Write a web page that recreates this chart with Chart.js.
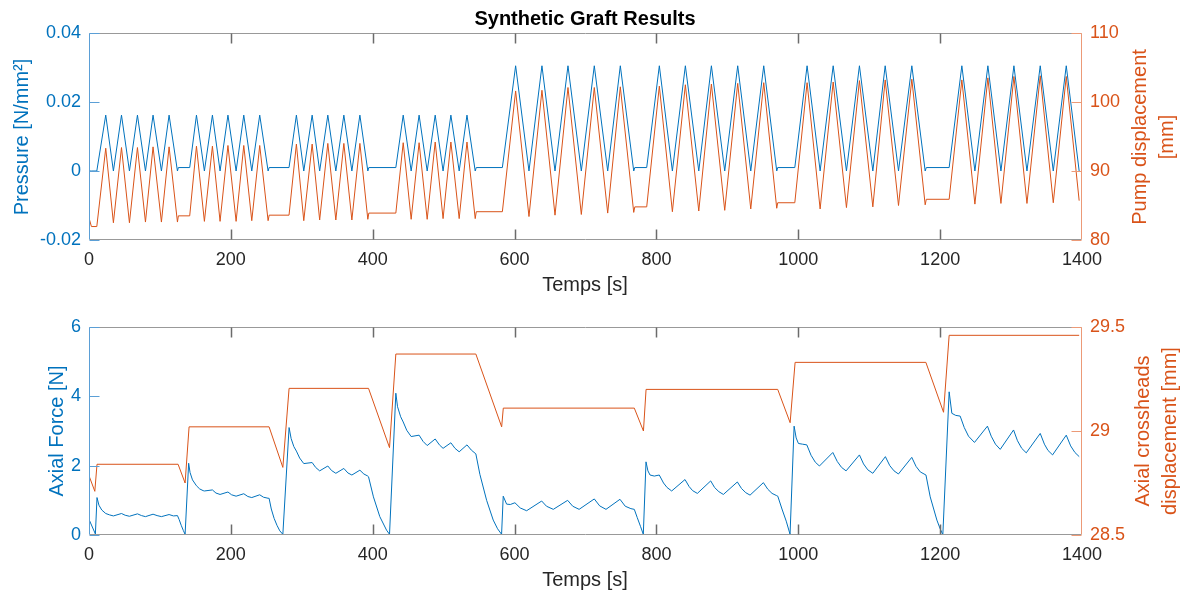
<!DOCTYPE html>
<html>
<head>
<meta charset="utf-8">
<script src="https://cdn.jsdelivr.net/npm/chart.js@4.4.0/dist/chart.umd.min.js"></script>
<style>
  html, body { margin: 0; padding: 0; background: #fff; }
  #wrap { position: relative; width: 1187px; height: 593px; }
  canvas { position: absolute; left: 0; }
</style>
</head>
<body>
<div id="wrap">
  <canvas id="chart-top" width="1187" height="297" style="top:0"></canvas>
  <canvas id="chart-bottom" width="1187" height="296" style="top:297px"></canvas>
</div>
<script>
// --- top panel: pressure (left) and pump displacement (right), shared time base [s]
const topTime = [
  0, 3.4, 11, 23.6, 34.4, 45.8, 57, 68.3, 79.6, 90.3, 102.1, 112.9, 124.7, 126, 142,
  151.5, 162.7, 174, 184.8, 195.9, 207.4, 218.2, 229.5, 240.7, 252.5, 254, 282,
  292.4, 302.8, 314.6, 325.2, 336.7, 348, 359.3, 370.6, 381.9, 393.1, 394.5, 432.6,
  443, 454.2, 465.4, 476.8, 488.1, 499.2, 510.2, 521.9, 532.9, 544.5, 546, 582.8,
  601.5, 620.3, 638.6, 657, 675.3, 694.1, 712.4, 731.3, 749.1, 768, 769.5, 786.3,
  804.1, 822.5, 840.8, 859.7, 877.5, 896.3, 914.6, 933, 951.3, 969.6, 971, 995.1,
  1012.4, 1030.8, 1049.2, 1067.9, 1086.2, 1105.1, 1122.5, 1141.3, 1160.1, 1178.9, 1180.5, 1212.7,
  1230.6, 1249, 1267.3, 1285.7, 1304, 1322.4, 1341.1, 1359.5, 1377.8, 1396
];
const pressure = [
  0, 0, 0, 0.0162, 0, 0.0162, 0, 0.0162, 0, 0.0162, 0, 0.0162, 0, 0.001, 0.001,
  0.0162, 0, 0.0162, 0, 0.0162, 0, 0.0162, 0, 0.0162, 0, 0.001, 0.001,
  0.0162, 0, 0.0162, 0, 0.0162, 0, 0.0162, 0, 0.0162, 0, 0.001, 0.001,
  0.0162, 0, 0.0162, 0, 0.0162, 0, 0.0162, 0, 0.0162, 0, 0.001, 0.001,
  0.0305, 0, 0.0305, 0, 0.0305, 0, 0.0305, 0, 0.0305, 0, 0.001, 0.001,
  0.0305, 0, 0.0305, 0, 0.0305, 0, 0.0305, 0, 0.0305, 0, 0.001, 0.001,
  0.0305, 0, 0.0305, 0, 0.0305, 0, 0.0305, 0, 0.0305, 0, 0.001, 0.001,
  0.0305, 0, 0.0305, 0, 0.0305, 0, 0.0305, 0, 0.0305, 0
];
const pumpDisp = [
  83.2, 81.95, 81.95, 93.3, 82.5, 93.4, 82.5, 93.4, 82.6, 93.5, 82.6, 93.5, 82.6, 83.5, 83.5,
  93.6, 82.7, 93.6, 82.7, 93.7, 82.7, 93.7, 82.8, 93.7, 82.8, 83.6, 83.6,
  93.9, 82.8, 93.9, 82.9, 94.0, 82.9, 94.0, 82.9, 94.0, 83.0, 83.9, 83.9,
  94.1, 83.0, 94.1, 83.0, 94.2, 83.1, 94.2, 83.1, 94.2, 83.1, 84.1, 84.1,
  101.6, 83.4, 101.7, 83.6, 102.1, 83.7, 102.1, 83.9, 102.2, 84.0, 84.8, 84.8,
  102.3, 84.1, 102.5, 84.2, 102.6, 84.3, 102.7, 84.5, 102.8, 84.6, 85.4, 85.4,
  102.8, 84.5, 102.9, 84.7, 103.1, 84.8, 103.2, 85.0, 103.3, 85.1, 85.9, 85.9,
  103.2, 85.2, 103.5, 85.3, 103.7, 85.3, 103.8, 85.4, 103.7, 85.7
];

// --- bottom panel: axial force (left)
const forceTime = [
  0, 9, 11.3, 14, 18, 23.6, 29, 34.4, 45.8, 51, 57, 68.3, 74, 79.6, 90.3, 96, 102.1, 112.9, 119, 124.7,
  127, 130, 133, 135.5,
  140.5, 142.5, 145.9, 151.5, 156, 160.9, 162.7, 174, 179, 184.8, 195.9, 201, 207.4, 218.2, 224, 229.5,
  240.7, 246, 252.5, 253.9, 257, 261, 265, 269, 273.3,
  282.1, 285, 288.8, 292.4, 297, 302.8, 314.6, 319.5, 325.2, 336.7, 342, 348, 359.3, 365, 370.6,
  381.9, 387.5, 393.1, 394.1, 401, 410, 419.5, 423.7,
  432.6, 435, 439.4, 443, 448, 454.2, 465.4, 471, 476.8, 488.1, 494, 499.2, 510.2, 516, 521.9,
  532.9, 539, 545.4, 551.1, 560.6, 569.9, 576, 581.7,
  584, 588.8, 594, 600.5, 608, 617, 638.2, 645, 654.6, 674.8, 682, 691, 712.4, 720, 728.9,
  748.6, 756, 764, 768.8, 773, 777.5, 781.5,
  785.3, 788, 791, 797, 804, 810, 815, 821.5, 840.3, 846, 851, 857.7, 876.5, 882, 888, 894.4,
  914.1, 920, 926, 932, 950.8, 957, 963, 969, 971.1, 977, 983, 988.4,
  994.1, 997, 1000.2, 1006, 1012, 1018, 1024, 1029.8, 1048.7, 1055, 1061, 1067.4, 1086.2, 1092, 1098,
  1105.1, 1122.8, 1129, 1135, 1141.2, 1160, 1166, 1172, 1180, 1186, 1195.4, 1200, 1203.8,
  1212.7, 1216.5, 1222, 1228.2, 1234, 1240, 1248.4, 1266.7, 1272, 1278, 1284.7, 1303.5, 1309, 1315,
  1321.4, 1341.1, 1347, 1352, 1358.5, 1377.8, 1384, 1390, 1396.1
];
const axialForce = [
  0.45, 0.03, 1.08, 0.86, 0.72, 0.62, 0.58, 0.55, 0.62, 0.57, 0.54, 0.61, 0.56, 0.53, 0.6, 0.56, 0.53, 0.59, 0.55, 0.56,
  0.45, 0.28, 0.13, 0.02,
  2.07, 1.8, 1.59, 1.42, 1.33, 1.28, 1.27, 1.3, 1.21, 1.17, 1.24, 1.16, 1.12, 1.19, 1.11, 1.08,
  1.16, 1.09, 1.06, 1.06, 0.75, 0.48, 0.28, 0.12, 0.02,
  3.1, 2.78, 2.55, 2.42, 2.22, 2.06, 2.09, 1.95, 1.85, 1.99, 1.86, 1.78, 1.92, 1.79, 1.73,
  1.87, 1.76, 1.7, 1.68, 1.1, 0.53, 0.14, 0.02,
  4.09, 3.7, 3.41, 3.26, 3.02, 2.84, 2.88, 2.7, 2.58, 2.77, 2.6, 2.5, 2.66, 2.5, 2.4,
  2.6, 2.45, 2.34, 1.75, 1.0, 0.43, 0.18, 0.02,
  1.12, 0.89, 0.88, 0.93, 0.78, 0.7, 0.98, 0.83, 0.74, 1.0, 0.83, 0.74, 1.04, 0.84, 0.74,
  1.03, 0.83, 0.76, 0.74, 0.5, 0.25, 0.02,
  2.11, 1.85, 1.73, 1.7, 1.73, 1.5, 1.37, 1.27, 1.6, 1.4, 1.28, 1.2, 1.56, 1.37, 1.25, 1.17,
  1.53, 1.34, 1.22, 1.15, 1.51, 1.32, 1.2, 1.14, 1.12, 0.75, 0.4, 0.02,
  3.14, 2.8, 2.64, 2.62, 2.6, 2.3, 2.1, 1.99, 2.38, 2.12, 1.95, 1.85, 2.31, 2.05, 1.88,
  1.78, 2.26, 2.0, 1.85, 1.76, 2.24, 1.98, 1.82, 1.73, 1.1, 0.43, 0.18, 0.01,
  4.13, 3.51, 3.45, 3.43, 3.1, 2.85, 2.67, 3.14, 2.85, 2.62, 2.47, 3.03, 2.72, 2.5,
  2.37, 2.93, 2.62, 2.44, 2.31, 2.88, 2.57, 2.38, 2.26
];

// --- bottom panel: axial crossheads displacement (right)
const crossTime = [
  0, 8.2, 11.3, 125.6, 135.5, 141.1, 253.9, 273.3, 282.1, 394.1, 423.7, 432.6, 545.4, 581.8, 584.1,
  768.8, 781.7, 785.4, 971, 988.5, 995.5, 1179.9, 1204.8, 1212.7, 1396
];
const crossDisp = [
  28.785, 28.71, 28.84, 28.84, 28.75, 29.02, 29.02, 28.825, 29.205, 29.205, 28.92, 29.37, 29.37, 29.02, 29.11,
  29.11, 29.0, 29.2, 29.2, 29.04, 29.33, 29.33, 29.09, 29.46, 29.46
];

const xTickValues = [0, 200, 400, 600, 800, 1000, 1200, 1400];

const BLUE = '#0072BD';
const ORANGE = '#D95319';
const INK = '#262626';
const FONT = '"Liberation Sans", Arial, Helvetica, sans-serif';

function pts(xs, ys) { return xs.map((x, i) => ({ x, y: ys[i] })); }

function seg(ctx, x1, y1, x2, y2) {
  ctx.beginPath(); ctx.moveTo(x1, y1); ctx.lineTo(x2, y2); ctx.stroke();
}

function label(ctx, text, x, y, font, color, rot) {
  ctx.save();
  ctx.translate(x, y);
  if (rot) ctx.rotate(rot);
  ctx.font = font;
  ctx.fillStyle = color;
  ctx.textAlign = 'center';
  ctx.textBaseline = 'middle';
  ctx.fillText(text, 0, 0);
  ctx.restore();
}

// MATLAB-like box with inward ticks plus all axis titles
function boxPlugin(texts) {
  return {
    id: 'matlabBox',
    afterDraw(chart) {
      const { ctx, chartArea: a, scales } = chart;
      const L = Math.round(a.left) + 0.5, R = Math.round(a.right) - 0.5;
      const T = Math.round(a.top) + 0.5, B = Math.round(a.bottom) - 0.5;
      const tl = 10;
      ctx.save();
      ctx.lineWidth = 1;
      ctx.strokeStyle = '#999999';
      seg(ctx, L, T, R, T);
      seg(ctx, L, B, R, B);
      // inward x ticks, top and bottom
      ctx.strokeStyle = '#6b6b6b';
      ctx.lineWidth = 1.5;
      xTickValues.forEach(v => {
        const px = Math.round(scales.x.getPixelForValue(v)) + 0.5;
        if (px <= L + 1 || px >= R - 1) return;
        seg(ctx, px, T, px, T + tl);
        seg(ctx, px, B, px, B - tl);
      });
      ctx.lineWidth = 1;
      ctx.strokeStyle = '#5b9fd6';
      seg(ctx, L, T, L, B);
      scales.y.ticks.forEach(t => {
        const py = Math.round(scales.y.getPixelForValue(t.value)) + 0.5;
        seg(ctx, L, py, L + tl, py);
      });
      ctx.strokeStyle = '#ec9a77';
      seg(ctx, R, T, R, B);
      scales.y1.ticks.forEach(t => {
        const py = Math.round(scales.y1.getPixelForValue(t.value)) + 0.5;
        seg(ctx, R, py, R - tl, py);
      });
      ctx.restore();
      texts.forEach(t => label(ctx, t.text, t.x, t.y, t.font, t.color, t.rot));
    }
  };
}

function makePanel(canvasId, cfg) {
  const tickFont = { family: FONT, size: 18 };
  return new Chart(document.getElementById(canvasId).getContext('2d'), {
    type: 'line',
    data: {
      datasets: [
        { data: cfg.left, yAxisID: 'y', borderColor: BLUE, borderWidth: 1, pointRadius: 0, tension: 0, order: 1 },
        { data: cfg.right, yAxisID: 'y1', borderColor: ORANGE, borderWidth: 1, pointRadius: 0, tension: 0, order: 2 }
      ]
    },
    options: {
      responsive: false,
      animation: false,
      layout: { padding: { top: cfg.padTop, left: 0, right: 0, bottom: 0 } },
      plugins: { legend: { display: false }, tooltip: { enabled: false }, title: { display: false } },
      scales: {
        x: {
          type: 'linear', min: 0, max: 1400,
          grid: { display: false, drawTicks: false }, border: { display: false },
          ticks: { stepSize: 200, color: INK, font: tickFont, padding: 9, maxRotation: 0, callback: v => String(v) },
          afterFit: s => { s.height = cfg.xHeight; }
        },
        y: {
          position: 'left', min: cfg.yMin, max: cfg.yMax,
          grid: { display: false, drawTicks: false }, border: { display: false },
          ticks: { stepSize: cfg.yStep, color: BLUE, font: tickFont, padding: 8, callback: v => String(+v.toFixed(2)) },
          afterFit: s => { s.width = 89; }
        },
        y1: {
          position: 'right', min: cfg.y1Min, max: cfg.y1Max,
          grid: { display: false, drawTicks: false }, border: { display: false },
          ticks: { stepSize: cfg.y1Step, color: ORANGE, font: tickFont, padding: 8, callback: v => String(+v.toFixed(2)) },
          afterFit: s => { s.width = 105; }
        }
      }
    },
    plugins: [boxPlugin(cfg.texts)]
  });
}

const labelFont = '20px ' + FONT;
const up = -Math.PI / 2;

makePanel('chart-top', {
  left: pts(topTime, pressure),
  right: pts(topTime, pumpDisp),
  padTop: 33, xHeight: 57,
  yMin: -0.02, yMax: 0.04, yStep: 0.02,
  y1Min: 80, y1Max: 110, y1Step: 10,
  texts: [
    { text: 'Synthetic Graft Results', x: 585, y: 19, font: 'bold 20px ' + FONT, color: '#000' },
    { text: 'Temps [s]', x: 585, y: 285, font: labelFont, color: INK },
    { text: 'Pressure [N/mm²]', x: 22, y: 137, font: labelFont, color: BLUE, rot: up },
    { text: 'Pump displacement', x: 1140, y: 137, font: labelFont, color: ORANGE, rot: up },
    { text: '[mm]', x: 1167, y: 137, font: labelFont, color: ORANGE, rot: up }
  ]
});

makePanel('chart-bottom', {
  left: pts(forceTime, axialForce),
  right: pts(crossTime, crossDisp),
  padTop: 30, xHeight: 58,
  yMin: 0, yMax: 6, yStep: 2,
  y1Min: 28.5, y1Max: 29.5, y1Step: 0.5,
  texts: [
    { text: 'Temps [s]', x: 585, y: 283, font: labelFont, color: INK },
    { text: 'Axial Force [N]', x: 57, y: 134, font: labelFont, color: BLUE, rot: up },
    { text: 'Axial crossheads', x: 1143, y: 134, font: labelFont, color: ORANGE, rot: up },
    { text: 'displacement [mm]', x: 1170, y: 134, font: labelFont, color: ORANGE, rot: up }
  ]
});
</script>
</body>
</html>
